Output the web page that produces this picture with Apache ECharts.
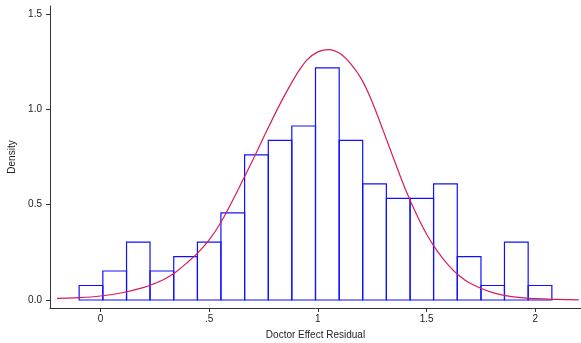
<!DOCTYPE html>
<html>
<head>
<meta charset="utf-8">
<script src="https://cdn.jsdelivr.net/npm/echarts@6/dist/echarts.min.js"></script>
<style>html,body{margin:0;padding:0;background:#fff}#c{width:581px;height:343px}</style>
</head>
<body>
<div id="c"></div>
<script>
// Histogram bin edges (Doctor Effect Residual)
const binEdges = [-0.098, 0.011, 0.120, 0.228, 0.337, 0.446, 0.554, 0.663, 0.772, 0.880, 0.989,
                  1.098, 1.206, 1.315, 1.424, 1.532, 1.641, 1.750, 1.858, 1.967, 2.076];
// Bar densities
const density = [0.076, 0.152, 0.304, 0.152, 0.228, 0.304, 0.457, 0.761, 0.837, 0.913,
                 1.218, 0.837, 0.609, 0.533, 0.533, 0.609, 0.228, 0.076, 0.304, 0.076];
// Normal density curve
const curveX = [-0.2, -0.1, 0.0, 0.1, 0.2, 0.25, 0.3, 0.35, 0.4, 0.45, 0.5, 0.55, 0.6, 0.65, 0.7, 0.75,
                0.8, 0.85, 0.9, 0.95, 1.0, 1.05, 1.1, 1.15, 1.2, 1.25, 1.3, 1.35, 1.4, 1.45, 1.5, 1.55,
                1.6, 1.65, 1.7, 1.8, 1.9, 2.0, 2.1, 2.2];
const curveY = [0.008, 0.012, 0.021, 0.038, 0.066, 0.087, 0.113, 0.150, 0.197, 0.250, 0.315, 0.400, 0.505, 0.618, 0.733, 0.852,
                0.970, 1.080, 1.180, 1.260, 1.302, 1.314, 1.294, 1.240, 1.160, 1.038, 0.890, 0.737, 0.588, 0.458, 0.345, 0.255,
                0.183, 0.127, 0.088, 0.040, 0.016, 0.007, 0.003, 0.001];
// Tick labels
const xTicks = [0, 0.5, 1, 1.5, 2];
const xTickLabels = ['0', '.5', '1', '1.5', '2'];
const yTicks = [0, 0.5, 1, 1.5];
const yTickLabels = ['0.0', '0.5', '1.0', '1.5'];

const barData = density.map((d, i) => [binEdges[i], binEdges[i + 1], d]);
const curveData = curveX.map((x, i) => [x, curveY[i]]);

const font = 'Liberation Sans, Arial, sans-serif';
const axisColor = '#333';

const chart = echarts.init(document.getElementById('c'), null, {renderer: 'canvas'});
chart.setOption({
  backgroundColor: '#fff',
  animation: false,
  grid: {left: 50, right: 0, top: 6, bottom: 35, containLabel: false, outerBoundsMode: 'none'},
  xAxis: {
    type: 'value', min: -0.232, max: 2.21,
    name: 'Doctor Effect Residual', nameLocation: 'middle', nameGap: 22,
    nameTextStyle: {fontSize: 10, fontFamily: font, color: '#222'},
    axisLine: {show: true, onZero: false, lineStyle: {color: axisColor, width: 1}},
    axisTick: {show: true, length: 4, customValues: xTicks, lineStyle: {color: axisColor}},
    axisLabel: {customValues: xTicks, margin: 6, fontSize: 10, fontFamily: font, color: '#222',
      formatter: v => { const i = xTicks.findIndex(t => Math.abs(t - v) < 1e-9); return i >= 0 ? xTickLabels[i] : ''; }},
    splitLine: {show: false}
  },
  yAxis: {
    type: 'value', min: -0.042, max: 1.5425,
    name: 'Density', nameLocation: 'middle', nameGap: 33,
    nameTextStyle: {fontSize: 10, fontFamily: font, color: '#222'},
    axisLine: {show: true, onZero: false, lineStyle: {color: axisColor, width: 1}},
    axisTick: {show: true, length: 4, customValues: yTicks, lineStyle: {color: axisColor}},
    axisLabel: {customValues: yTicks, margin: 8, fontSize: 10, fontFamily: font, color: '#222',
      formatter: v => { const i = yTicks.findIndex(t => Math.abs(t - v) < 1e-9); return i >= 0 ? yTickLabels[i] : ''; }},
    splitLine: {show: false}
  },
  series: [
    {
      type: 'custom',
      data: barData,
      encode: {x: [0, 1], y: 2},
      renderItem: function (params, api) {
        const p0 = api.coord([api.value(0), api.value(2)]);
        const p1 = api.coord([api.value(1), 0]);
        return {
          type: 'rect',
          shape: {x: p0[0], y: p0[1], width: p1[0] - p0[0], height: p1[1] - p0[1]},
          style: {fill: 'none', stroke: '#1010ff', lineWidth: 1.2}
        };
      }
    },
    {
      type: 'line',
      data: curveData,
      smooth: 0.4,
      showSymbol: false,
      lineStyle: {color: '#d81b5a', width: 1.2},
      z: 3
    }
  ]
});
</script>
</body>
</html>
